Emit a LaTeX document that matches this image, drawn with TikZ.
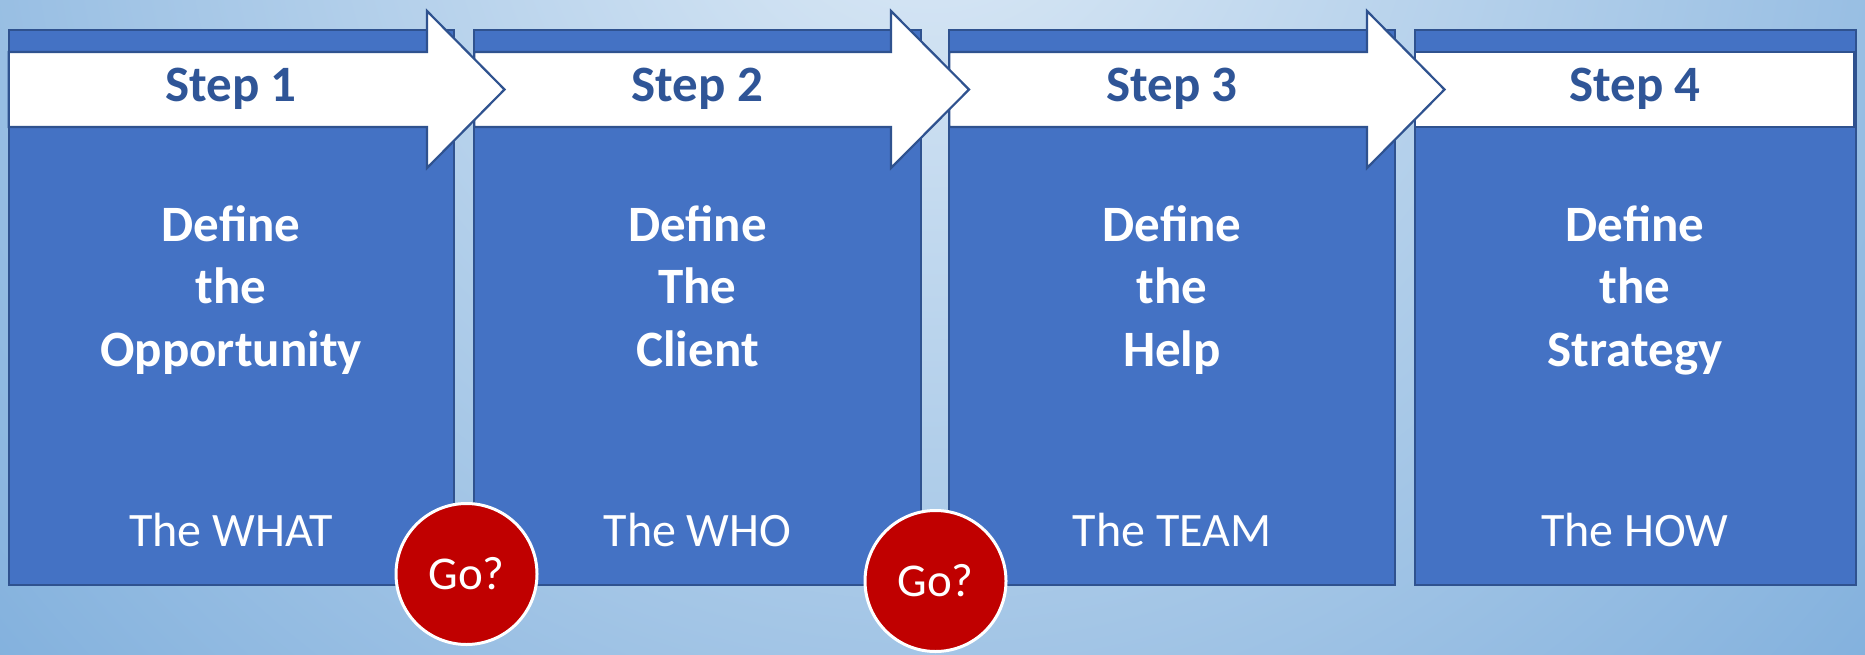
\documentclass[tikz,border=0pt]{standalone}
\usepackage{fontspec}
\setmainfont{Carlito}
\usetikzlibrary{fit}

\definecolor{boxblue}{HTML}{4472C4}
\definecolor{edgeblue}{HTML}{2F528F}
\definecolor{steptext}{HTML}{2F5597}
\definecolor{gored}{HTML}{C00000}
\definecolor{bglight}{HTML}{DDEAF6}
\definecolor{bgdark}{HTML}{70A5D8}

% backdrop glow: light at the centre, reaching the rim colour at the path's edge
\pgfdeclareradialshading{backdrop}{\pgfpoint{0bp}{0bp}}{%
  color(0bp)=(bglight); color(25bp)=(bgdark); color(50bp)=(bgdark)}

\begin{document}
\begin{tikzpicture}[x=1pt,y=-1pt,
  phasebox/.style={draw=edgeblue, line width=2.2pt, fill=boxblue, inner sep=0pt},
  band/.style={draw=edgeblue, line width=2.2pt, fill=white, line join=miter},
  steplabel/.style={font=\fontsize{51}{62}\selectfont\bfseries, text=steptext, anchor=base, inner sep=0pt},
  phasetitle/.style={font=\fontsize{51}{62.5}\selectfont\bfseries, text=white, align=center, anchor=base, inner sep=0pt},
  phasesub/.style={font=\fontsize{48}{58}\selectfont, text=white, anchor=base, inner sep=0pt},
  gate/.style={circle, fill=gored, draw=white, line width=3pt, minimum size=141pt, inner sep=0pt,
    text=white, font=\fontsize{47}{56}\selectfont}]

\useasboundingbox (0,0) rectangle (1865,654);

% soft blue backdrop, lightest near the top centre
\begin{scope}
  \clip (0,0) rectangle (1865,654);
  \shade[shading=backdrop] (930,-150) circle (1500);
\end{scope}

% the four phase panels
\node[phasebox, fit={(8.75,29.75) (453.75,585.25)}] (b1) {};
\node[phasebox, fit={(474.25,29.75) (920.75,585.25)}] (b2) {};
\node[phasebox, fit={(949.25,29.75) (1394.75,585.25)}] (b3) {};
\node[phasebox, fit={(1414.75,29.75) (1855.75,585.25)}] (b4) {};

% step banners, later steps first so each arrow head lies on top of the next banner
\draw[band] (1414.75,52) rectangle (1854,127);
\draw[band] (949.25,52) -- (1367,52) -- (1367,11) -- (1444.5,89.5) -- (1367,168) -- (1367,127) -- (949.25,127) -- cycle;
\draw[band] (474.25,52) -- (891,52) -- (891,11) -- (969,89.5) -- (891,168) -- (891,127) -- (474.25,127) -- cycle;
\draw[band] (8.75,52) -- (427,52) -- (427,11) -- (504.5,89.5) -- (427,168) -- (427,127) -- (8.75,127) -- cycle;

\node[steplabel] (s1) at (231,101.5) {Step 1};
\node[steplabel] (s2) at (697.5,101.5) {Step 2};
\node[steplabel] (s3) at (1172,101.5) {Step 3};
\node[steplabel] (s4) at (1635,101.5) {Step 4};

% panel headings (anchored on the baseline of their last line)
\node[phasetitle] (t1) at (231,366) {Define\\the\\Opportunity};
\node[phasetitle] (t2) at (697.5,366) {Define\\The\\Client};
\node[phasetitle] (t3) at (1172,366) {Define\\the\\Help};
\node[phasetitle] (t4) at (1635,366) {Define\\the\\Strategy};

% panel captions
\node[phasesub] (c1) at (231,546) {The WHAT};
\node[phasesub] (c2) at (697.5,546) {The WHO};
\node[phasesub] (c3) at (1172,546) {The TEAM};
\node[phasesub] (c4) at (1635,546) {The HOW};

% go / no-go decision points
\node[gate] (g1) at (466.5,574) {Go?};
\node[gate] (g2) at (935.5,581) {Go?};
\end{tikzpicture}
\end{document}
